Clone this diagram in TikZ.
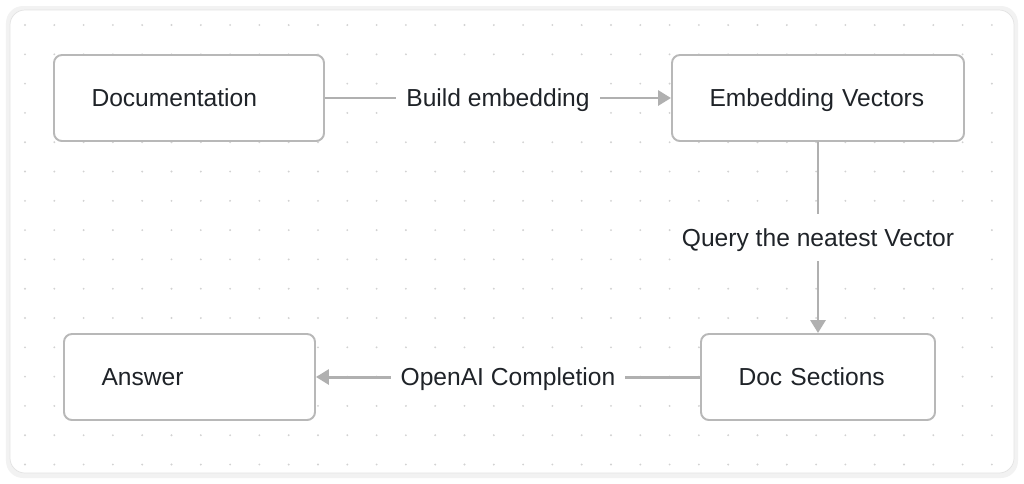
\documentclass[tikz,border=0pt]{standalone}
\usepackage{fontspec}
\setmainfont{Liberation Sans}
\usetikzlibrary{arrows.meta}

\definecolor{linegray}{HTML}{B0B0B0}
\definecolor{boxgray}{HTML}{B8B8B8}
\definecolor{txtdark}{HTML}{1F2328}
\definecolor{dotgray}{HTML}{D2D2D2}

\begin{document}
\begin{tikzpicture}[
    font=\fontsize{14}{16}\selectfont,
    block/.style={rectangle, draw=boxgray, line width=1.1pt, fill=white, rounded corners=4.5pt, text=txtdark, align=left, inner xsep=0.75cm, minimum height=1.72cm, text height=10pt, text depth=0pt},
    flow/.style={draw=linegray, line width=1.7pt, -{Triangle[length=0.26cm, width=0.3cm]}},
    tag/.style={fill=white, text=txtdark, inner xsep=0.2cm, inner ysep=0.3cm, text height=10pt, text depth=0pt}
]

% Card
\useasboundingbox (0,0) rectangle (20.48,-9.66);
\fill[gray!10, rounded corners=0.34cm] (0.12,-0.12) rectangle (20.36,-9.56);
\draw[gray!22, fill=white, rounded corners=0.3cm] (0.2,-0.2) rectangle (20.28,-9.46);

% Dot grid
\foreach \i in {0,...,33}
  \foreach \j in {0,...,15}
    \fill[dotgray] (0.5+0.586*\i, -0.5-0.586*\j) circle (0.021);

% Boxes
\node[block, text width=3.9cm] (doc) at (3.78,-1.96) {Documentation};
\node[block, text width=4.34cm] (emb) at (16.36,-1.96) {Embedding Vectors};
\node[block, text width=3.18cm] (sec) at (16.36,-7.54) {Doc Sections};
\node[block, text width=3.52cm] (ans) at (3.79,-7.54) {Answer};

% Arrows
\draw[flow] (doc) -- node[tag] {Build embedding} (emb);
\draw[flow] (emb) -- node[tag] {Query the neatest Vector} (sec);
\draw[flow] (sec) -- node[tag] {OpenAI Completion} (ans);

\end{tikzpicture}
\end{document}
